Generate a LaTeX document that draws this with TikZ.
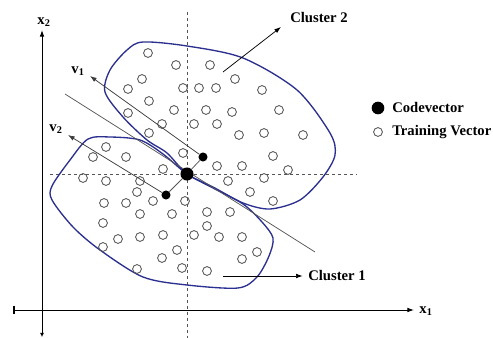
\documentclass[tikz,border=0pt]{standalone}
\usepackage{fontspec}
\setmainfont{Liberation Serif}
\usetikzlibrary{arrows.meta, positioning}
\definecolor{clusterblue}{HTML}{2B2F8F}
\definecolor{vecgray}{HTML}{555555}

\begin{document}
\begin{tikzpicture}[
    x=0.75pt, y=-0.75pt,
    tvec/.style={circle, draw=vecgray, line width=0.65pt, minimum size=6.6pt, inner sep=0pt},
    cvec/.style={circle, fill=black, minimum size=#1, inner sep=0pt},
    cvec/.default=6.8pt,
    lbl/.style={font=\bfseries\fontsize{11}{13}\selectfont, inner sep=0pt},
    arrow/.style={-{Latex[length=5pt,width=3.5pt]}, line width=0.55pt},
    boundary/.style={clusterblue, line width=1pt},
    guide/.style={dash pattern=on 2.5pt off 2pt, vecgray, line width=0.6pt}
]
\useasboundingbox (0,0) rectangle (493,338);

% Axes
\coordinate (ybot) at (42,337);
\coordinate (ytop) at (42,30);
\coordinate (xleft) at (14,310);
\coordinate (xright) at (414,310);
\draw[line width=0.7pt, -{Latex[length=5pt,width=3.5pt]}] (xleft) -- (xright);
\draw[line width=0.7pt, {Latex[length=3pt,width=3pt]}-{Latex[length=5pt,width=3.5pt]}] (ybot) -- (ytop);
\draw[line width=0.9pt] (14,306) -- (14,314);
\node[lbl] (x1) at (426,311) {x\textsubscript{1}};
\node[lbl] (x2) at (44,22) {x\textsubscript{2}};

% Dashed guides through the main codevector
\coordinate (vtop) at (187,12);
\coordinate (vbot) at (187,338);
\coordinate (hleft) at (50,174);
\coordinate (hright) at (357,174);
\draw[guide] (vtop) -- (vbot);
\draw[guide] (hleft) -- (hright);

% Cluster boundaries
\draw[boundary] plot[smooth cycle, tension=0.5] coordinates {
    (143,42) (187,46) (243,58) (297,90) (330,133) (335,155) (323,177)
    (300,200) (270,209) (243,203) (213,187) (187,174) (167,153) (147,140)
    (123,117) (105,92) (110,70) (127,50)};
\draw[boundary] plot[smooth cycle, tension=0.5] coordinates {
    (88,139) (110,137) (140,140) (163,154) (187,174) (213,188) (243,204)
    (262,222) (273,238) (269,256) (257,277) (238,288) (187,285) (143,277)
    (100,250) (73,227) (52,200) (52,186) (70,160)};

% Training vectors
\foreach \x/\y [count=\i] in {
    148/53, 176/65, 210/65, 142/79, 235/79, 128/89, 183/88, 199/88, 216/88,
    262/90, 149/101, 174/110, 206/110, 232/112, 279/110, 128/113, 162/124,
    194/124, 217/124, 149/133, 239/135, 264/133, 303/135, 183/153, 273/156,
    217/166, 242/166, 288/170, 228/181, 264/178, 250/192, 273/201,
    106/147, 93/157, 126/157, 163/169, 83/178, 106/181, 140/181, 137/192,
    153/201, 185/201, 104/203, 126/203, 140/214, 172/214, 207/212, 230/212,
    207/226, 103/223, 163/235, 194/235, 219/237, 242/237, 118/239, 140/237,
    103/247, 177/250, 162/258, 242/259, 257/252, 137/269, 182/268, 207/271}
    \node[tvec] (t\i) at (\x,\y) {};

% Decision line
\coordinate (sepa) at (65,94);
\coordinate (sepb) at (315,252);
\draw[vecgray, line width=0.55pt] (sepa) -- (sepb);

% Codevectors
\node[cvec=9.8pt] (c0) at (187,174) {};
\node[cvec] (c1) at (203,157) {};
\node[cvec] (c2) at (166,195) {};
\draw[vecgray, line width=0.55pt] (c0) -- (c1);
\draw[vecgray, line width=0.55pt] (c0) -- (c2);

% Split directions
\coordinate (v1tip) at (90,76);
\coordinate (v2tip) at (68,135);
\draw[arrow, vecgray!70!black] (c1) -- (v1tip);
\draw[arrow, vecgray!70!black] (c2) -- (v2tip);
\node[lbl] (v1) at (78,71) {v\textsubscript{1}};
\node[lbl] (v2) at (56,129) {v\textsubscript{2}};

% Cluster labels
\coordinate (cl2from) at (223,72);
\coordinate (cl2tip) at (281,27);
\draw[arrow] (cl2from) -- (cl2tip);
\node[lbl, anchor=west] (cl2) at (290,18) {Cluster 2};
\coordinate (cl1from) at (223,276);
\node[lbl, anchor=west] (cl1) at (308,276) {Cluster 1};
\draw[arrow] (cl1from) -- ([xshift=-4pt]cl1.west);

% Legend
\node[cvec=9.5pt] (legc) at (378,108) {};
\node[lbl, anchor=west] (legctext) at (392,107) {Codevector};
\node[tvec] (legt) at (378,132) {};
\node[lbl, anchor=west] (legttext) at (392,132) {Training Vector};

\end{tikzpicture}
\end{document}
